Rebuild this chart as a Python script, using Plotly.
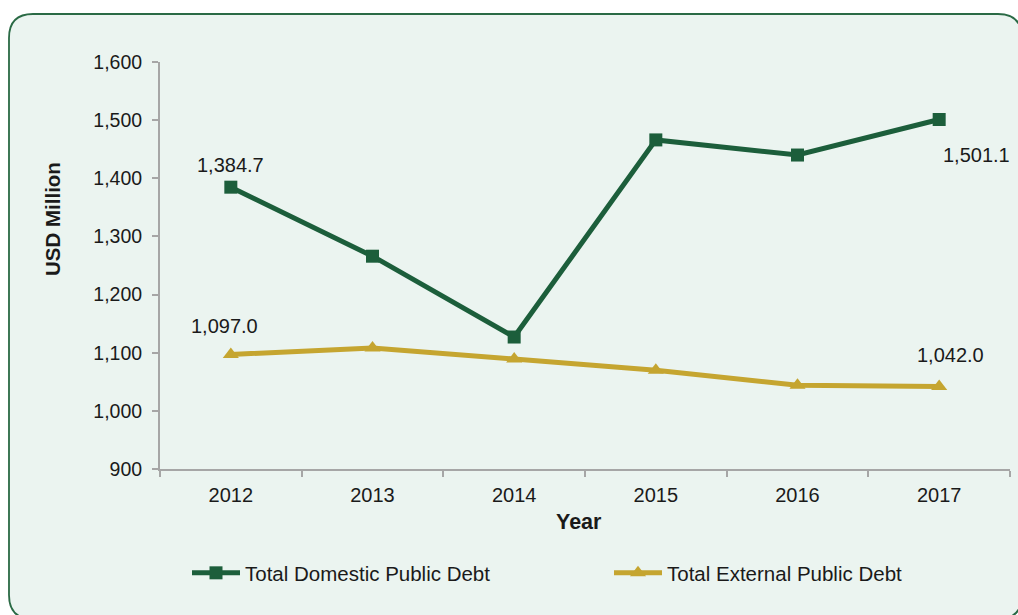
import plotly.graph_objects as go

years = ["2012", "2013", "2014", "2015", "2016", "2017"]
domestic = [1384.7, 1266.0, 1127.0, 1466.0, 1440.0, 1501.1]
external = [1097.0, 1108.0, 1089.0, 1070.0, 1044.0, 1042.0]
y_ticks = [900, 1000, 1100, 1200, 1300, 1400, 1500, 1600]

GREEN = "#1c5e3b"
GOLD = "#c5a530"
FONT = "Liberation Sans, Arial, sans-serif"

W, H = 1018, 615
ML, MR, MT, MB = 160, 8, 62, 146
PW, PH = W - ML - MR, H - MT - MB

fig = go.Figure()
fig.add_trace(go.Scatter(
    x=years, y=domestic, mode="lines+markers", name="Total Domestic Public Debt",
    line=dict(color=GREEN, width=5),
    marker=dict(symbol="square", size=13, color=GREEN),
    legend="legend",
))
fig.add_trace(go.Scatter(
    x=years, y=external, mode="lines+markers", name="Total External Public Debt",
    line=dict(color=GOLD, width=5),
    marker=dict(symbol="triangle-up", size=14, color=GOLD),
    legend="legend2",
))

def fmt(v):
    return f"{v:,.1f}"

# value labels on the first and last points of each series
labels = [
    (0, domestic[0], 0, 22),
    (5, domestic[-1], 37, -35),
    (0, external[0], -6, 28),
    (5, external[-1], 11, 31),
]
for i, y, dx, dy in labels:
    fig.add_annotation(x=i, y=y, xref="x", yref="y", text=fmt(y), showarrow=False,
                       xshift=dx, yshift=dy,
                       font=dict(family=FONT, size=20, color="#1a1a1a"))

# rounded panel behind the chart
def P(px, py):
    a, b = (px - ML) / PW, (H - MB - py) / PH
    return f"{a:.5f},{b:.5f}"

x0, y0, x1, y1, r = 9, 14, 1022, 619, 24
path = (
    f"M {P(x0 + r, y0)} L {P(x1 - r, y0)} Q {P(x1, y0)} {P(x1, y0 + r)} "
    f"L {P(x1, y1 - r)} Q {P(x1, y1)} {P(x1 - r, y1)} "
    f"L {P(x0 + r, y1)} Q {P(x0, y1)} {P(x0, y1 - r)} "
    f"L {P(x0, y0 + r)} Q {P(x0, y0)} {P(x0 + r, y0)} Z"
)
fig.add_shape(type="path", path=path, xref="paper", yref="paper",
              line=dict(color="#2a6a45", width=1.8), fillcolor="#ebf4f0",
              layer="below")

# axis titles
fig.add_annotation(x=(52 - ML) / PW, y=(H - MB - 219) / PH, xref="paper", yref="paper",
                   xanchor="center", yanchor="middle",
                   text="<b>USD Million</b>", textangle=-90, showarrow=False,
                   font=dict(family=FONT, size=20.5, color="#1a1a1a"))
fig.add_annotation(x=(579 - ML) / PW, y=(H - MB - 522) / PH, xref="paper", yref="paper",
                   xanchor="center", yanchor="middle",
                   text="<b>Year</b>", showarrow=False,
                   font=dict(family=FONT, size=21.5, color="#1a1a1a"))

legend_y = (H - MB - 573) / PH
legend_common = dict(orientation="h", y=legend_y, xanchor="left", yanchor="middle",
                     itemwidth=48, bgcolor="rgba(0,0,0,0)", font=dict(size=20.5))

fig.update_layout(
    width=W, height=H,
    margin=dict(l=ML, r=MR, t=MT, b=MB),
    paper_bgcolor="white", plot_bgcolor="rgba(0,0,0,0)",
    font=dict(family=FONT, size=19, color="#1a1a1a"),
    showlegend=True,
    legend=dict(x=(187 - ML) / PW, **legend_common),
    legend2=dict(x=(609 - ML) / PW, **legend_common),
    xaxis=dict(
        type="category", tickson="boundaries", range=[-0.5, 5.5],
        showline=True, linecolor="#a6a6a6", linewidth=2,
        ticks="outside", ticklen=6, tickcolor="#a6a6a6", tickwidth=1.5,
        ticklabelstandoff=7,
        showgrid=False, zeroline=False,
        tickfont=dict(size=20),
    ),
    yaxis=dict(
        range=[900, 1600], tickvals=y_ticks,
        tickformat=",d",
        showline=True, linecolor="#a6a6a6", linewidth=2,
        ticks="outside", ticklen=6, tickcolor="#a6a6a6", tickwidth=1.5,
        ticklabelstandoff=6,
        showgrid=False, zeroline=False,
        tickfont=dict(size=19.5),
    ),
)

fig.write_html("out.html")
